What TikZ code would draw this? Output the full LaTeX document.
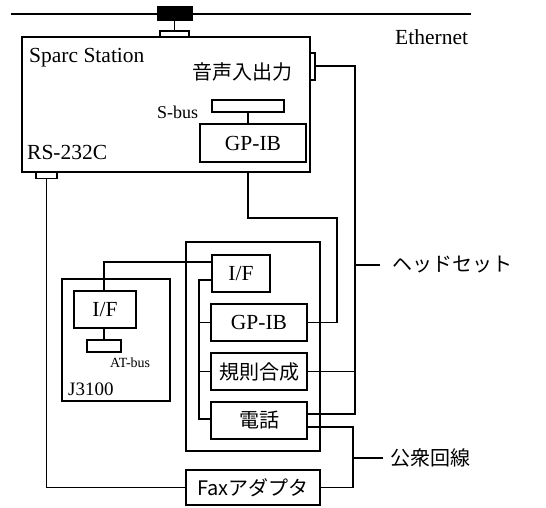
\documentclass[tikz,border=0pt]{standalone}
\usepackage{fontspec}
\setmainfont{Liberation Serif}
\newfontfamily\jp{Noto Sans CJK JP}
\begin{document}
\begin{tikzpicture}[x=1pt,y=-1pt,
  outerbox/.style={draw,line width=2.8pt,rectangle,inner sep=0},
  innerbox/.style={draw,line width=1.9pt,rectangle,inner sep=0,font=\fontsize{21.5}{25}\selectfont},
  connbox/.style={draw,line width=1.5pt,rectangle,inner sep=0},
  wire/.style={line width=1.4pt},
  lbl/.style={inner sep=0,font=\fontsize{21.5}{25}\selectfont},
  jlbl/.style={inner sep=0,font=\jp\fontsize{20}{24}\selectfont}]
\useasboundingbox (0,0) rectangle (546,508);
% Ethernet
\coordinate (ethL) at (11,14);
\coordinate (ethR) at (471,14);
\draw[line width=2.8pt] (ethL) -- (ethR);
\node[draw,fill=black,line width=1pt,minimum width=35pt,minimum height=14pt,inner sep=0] (tap) at (174.5,14) {};
\node[connbox,minimum width=29pt,minimum height=6pt] (tapconn) at (174.5,34) {};
\draw[wire] (tap.south) -- (tapconn.north);
\node[lbl,anchor=base west] (ethlbl) at (395,45) {Ethernet};
% Sparc station
\node[outerbox,minimum width=288pt,minimum height=135pt] (sparc) at (166,104.5) {};
\node[lbl,anchor=base west] (sparclbl) at (29,63) {Sparc Station};
\node[jlbl] (audio) at (242,72) {音声入出力};
\node[connbox,minimum width=5pt,minimum height=27pt] (audioconn) at (312.5,66.5) {};
\node[connbox,minimum width=72pt,minimum height=12pt] (sbus) at (248,106) {};
\node[lbl,anchor=base west] (sbuslbl) at (157,119) {\fontsize{18}{21}\selectfont S-bus};
\node[innerbox,minimum width=106pt,minimum height=38pt] (gpib1) at (253,143) {GP-IB};
\draw[wire] (sbus.south) -- (sbus.south |- gpib1.north);
\node[lbl,anchor=base west] (rslbl) at (27,160) {RS-232C};
\node[connbox,minimum width=21pt,minimum height=6pt] (rsconn) at (46.5,175.5) {};
% rack
\node[outerbox,minimum width=134pt,minimum height=209pt] (rack) at (253,346.5) {};
\node[innerbox,minimum width=58pt,minimum height=37pt] (if1) at (241,273.5) {I/F};
\node[innerbox,minimum width=96pt,minimum height=37pt] (gpib2) at (259,322.5) {GP-IB};
\node[innerbox,minimum width=96pt,minimum height=37pt,font=\jp\fontsize{20}{24}\selectfont] (kisoku) at (259,371.5) {規則合成};
\node[innerbox,minimum width=96pt,minimum height=37pt,font=\jp\fontsize{20}{24}\selectfont] (denwa) at (259,420.5) {電話};
% J3100
\node[outerbox,minimum width=108pt,minimum height=122pt] (j3100) at (116,340) {};
\node[innerbox,minimum width=62pt,minimum height=37pt] (if2) at (105,309.5) {I/F};
\node[connbox,minimum width=34pt,minimum height=12pt] (atbus) at (104,346) {};
\draw[wire] (if2.south -| atbus.north) -- (atbus.north);
\node[lbl,anchor=base west] (atlbl) at (110,367) {\fontsize{14}{16}\selectfont AT-bus};
\node[lbl,anchor=base west] (jlbl) at (68,395) {\fontsize{19}{22}\selectfont J3100};
% Fax
\node[outerbox,minimum width=134pt,minimum height=35pt,font=\jp\fontsize{20}{24}\selectfont] (fax) at (253,487.5) {Faxアダプタ};
% labels right
\node[jlbl,anchor=west] (headset) at (392,265) {ヘッドセット};
\node[jlbl,anchor=west] (public) at (390,458) {公衆回線};
% wires
\coordinate (gx) at (247,218);
\coordinate (gy) at (337,218);
\draw[wire] (sbus.south |- sparc.south) -- (sbus.south |- gx) -- (gy) -- (gy |- gpib2.east) -- (gpib2.east);
\coordinate (ax) at (355,66);
\coordinate (dtop) at (307,414);
\draw[wire] (audioconn.east |- ax) -- (ax) -- (ax |- dtop) -- (dtop);
\draw[wire] (kisoku.east) -- (ax |- kisoku.east);
\draw[wire] (ax |- headset.west) -- ([xshift=-12pt]headset.west);
\coordinate (dbot) at (307,427);
\coordinate (px) at (353,427);
\draw[wire] (dbot) -- (px) -- (px |- fax.east) -- (fax.east);
\draw[wire] (px |- public.west) -- ([xshift=-7pt]public.west);
\draw[wire] (rsconn.south) -- (rsconn.south |- fax.west) -- (fax.west);
\coordinate (ifx) at (104,262);
\draw[wire] (if2.north -| ifx) -- (ifx) -- (ifx -| if1.west);
\coordinate (bt) at (199,280);
\coordinate (bb) at (199,419);
\draw[wire] (bt -| if1.west) -- (bt) -- (bb) -- (bb -| denwa.west);
\draw[wire] (bt |- gpib2.west) -- (gpib2.west);
\draw[wire] (bt |- kisoku.west) -- (kisoku.west);
\end{tikzpicture}
\end{document}
